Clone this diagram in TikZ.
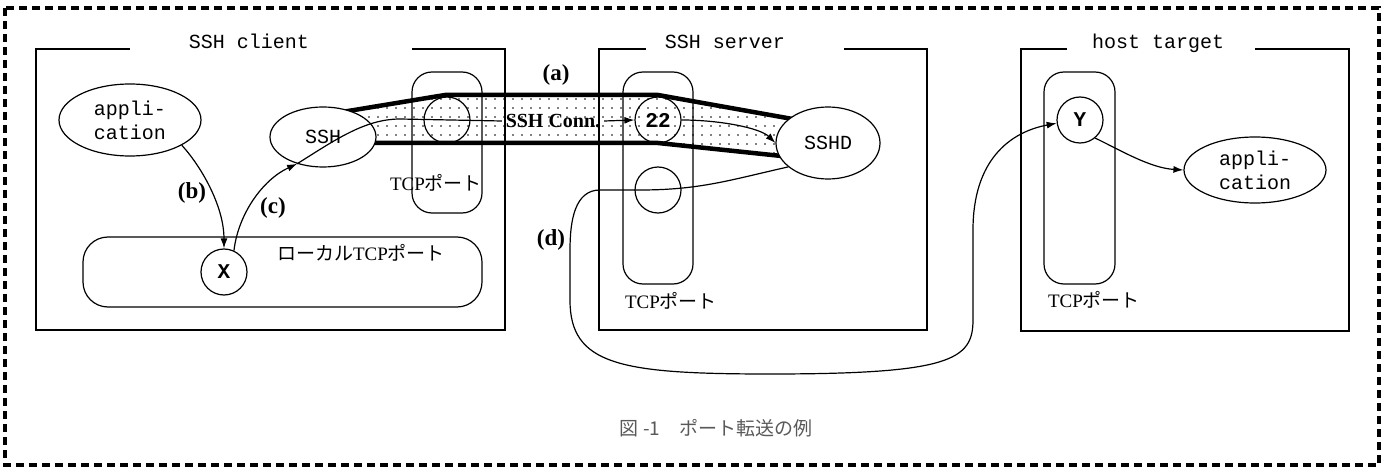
\documentclass[tikz,border=0pt]{standalone}
\usepackage{fontspec}
\setmainfont{Liberation Serif}
\setmonofont{Liberation Mono}
\newfontfamily\jp{Noto Sans CJK JP}
\usetikzlibrary{positioning,arrows.meta,shapes.geometric,patterns}

\pgfdeclarepatternformonly{sparsedots}{\pgfqpoint{-1pt}{-1pt}}{\pgfqpoint{1pt}{1pt}}{\pgfqpoint{9pt}{9pt}}{%
  \pgfpathcircle{\pgfpointorigin}{0.9pt}\pgfusepath{fill}}

\begin{document}
\begin{tikzpicture}[
        x=1pt, y=-1pt,
        line width=1.2pt,
        title/.style={anchor=base, font=\ttfamily\fontsize{20}{24}\selectfont},
        proc/.style={draw, ellipse, fill=white, inner sep=0pt, align=center, font=\ttfamily\fontsize{20}{24}\selectfont},
        portbox/.style={draw, rounded corners=20pt, inner sep=0pt},
        portnum/.style={draw, circle, minimum size=46pt, inner sep=0pt, font=\ttfamily\bfseries\fontsize{21}{24}\selectfont},
        plabel/.style={font=\fontsize{19}{22}\selectfont},
        tag/.style={font=\bfseries\fontsize{23}{26}\selectfont},
        line/.style={-{Latex[length=10pt,width=7pt]}},
        tube/.style={line width=4.5pt}
    ]
        \useasboundingbox (0,0) rectangle (1385,468);
        \draw[line width=3.5pt, dash pattern=on 8pt off 5pt] (5,8) rectangle (1379,465);

        % SSH connection tunnel
        \fill[pattern=sparsedots, pattern color=black] (330,114) -- (445,95) -- (658,95) -- (815,123) -- (810,159) -- (658,143) -- (330,143) -- cycle;
        \draw[tube] (330,114) -- (445,95) -- (658,95) -- (815,123);
        \draw[tube] (330,143) -- (658,143) -- (810,159);

        % hosts
        \draw (130,49) -| (36,330) -| (505,49) -- (412,49);
        \draw (646,49) -| (599,330) -| (927,49) -- (844,49);
        \draw (1067,49) -| (1021,331) -| (1349,49) -- (1255,49);
        \node[title] (tclient) at (249,49) {SSH client};
        \node[title] (tserver) at (725,49) {SSH server};
        \node[title] (ttarget) at (1158,49) {host target};

        \node[proc, minimum width=142pt, minimum height=72pt] (capp) at (130,120) {appli-\\cation};
        \node[proc, minimum width=106pt, minimum height=60pt] (ssh) at (323,137) {SSH};
        \node[proc, minimum width=104pt, minimum height=72pt] (sshd) at (828,143) {SSHD};
        \node[proc, minimum width=142pt, minimum height=66pt] (happ) at (1255,170) {appli-\\cation};

        \node[portbox, minimum width=70pt, minimum height=141pt] (cport) at (447,142.5) {};
        \node[portbox, rounded corners=25pt, minimum width=399pt, minimum height=70pt] (lport) at (282.5,272) {};
        \node[portbox, minimum width=70pt, minimum height=212pt] (sport) at (658,178) {};
        \node[portbox, minimum width=71pt, minimum height=212pt] (hport) at (1079.5,178) {};

        \node[portnum] (cnum) at (447,120) {};
        \node[portnum] (x) at (224,272) {X};
        \node[portnum] (p22) at (658,120) {22};
        \node[portnum] (snum) at (658,190) {};
        \node[portnum] (y) at (1080,120) {Y};

        \node[plabel] (lportl) at (361,253) {{\jp ローカル}TCP{\jp ポート}};
        \node[plabel] (cportl) at (436,183) {TCP{\jp ポート}};
        \node[plabel] (sportl) at (671,301) {TCP{\jp ポート}};
        \node[plabel] (hportl) at (1094,300) {TCP{\jp ポート}};

        \node[font=\bfseries\fontsize{20}{24}\selectfont] (conn) at (553,121) {SSH Conn.};
        \node[tag] (la) at (556,75) {(a)};
        \node[tag] (lb) at (192,193) {(b)};
        \node[tag] (lc) at (273,208) {(c)};
        \node[tag] (ld) at (551,240) {(d)};

        \node[text=black!65, font=\jp\fontsize{19}{22}\selectfont] (cap) at (716,428) {図 -1　ポート転送の例};

        \draw[line] (capp.-26) .. controls (200,165) and (224,205) .. (x.north);
        \draw[line] (x.65) .. controls (238,215) and (262,180) .. (ssh.-134);
        \draw (ssh.-134) .. controls (335,140) and (365,119) .. (400,119) -- (conn.west);
        \draw[line] (conn.east) -- (p22.west);
        \draw[line] (p22.east) .. controls (720,120) and (760,128) .. (sshd.west);
        \draw[line] (sshd.-149) .. controls (730,180) and (700,190) .. (640,190) -- (600,190)
            .. controls (575,190) and (570,220) .. (570,250) -- (570,300)
            .. controls (570,365) and (620,374) .. (770,374)
            .. controls (950,374) and (973,360) .. (973,320) -- (973,230)
            .. controls (973,160) and (1010,132) .. (y.188);
        \draw[line] (y.-50) .. controls (1120,150) and (1150,168) .. (happ.west);
    \end{tikzpicture}
\end{document}
